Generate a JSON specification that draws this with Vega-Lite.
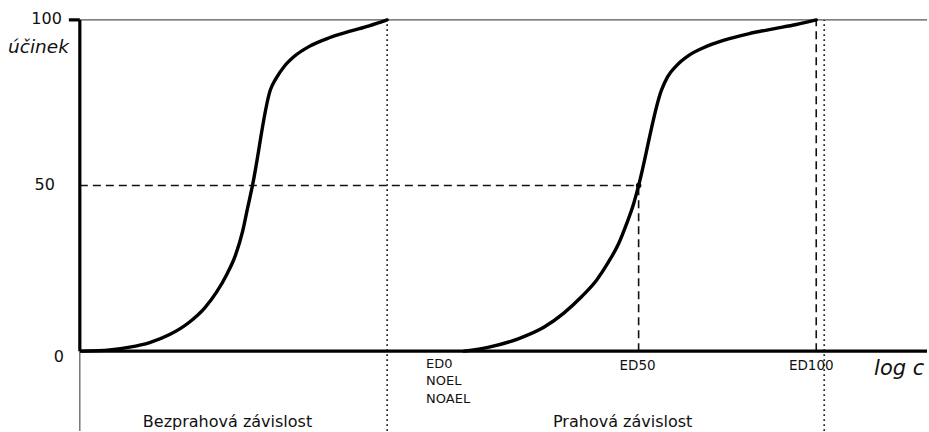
{
  "$schema": "https://vega.github.io/schema/vega-lite/v6.json",
  "width": 929,
  "height": 432,
  "autosize": {"type": "fit", "contains": "padding"},
  "padding": 0,
  "background": "white",
  "config": {"view": {"stroke": null}, "font": "DejaVu Sans"},
  "datasets": {
    "curves": [
      {"curve": "bez", "x": 0.2, "y": 0},
      {"curve": "bez", "x": 3.0, "y": 0.4},
      {"curve": "bez", "x": 5.0, "y": 1.2},
      {"curve": "bez", "x": 7.0, "y": 2.6},
      {"curve": "bez", "x": 9.0, "y": 5.0},
      {"curve": "bez", "x": 11.0, "y": 8.8},
      {"curve": "bez", "x": 12.5, "y": 13.0},
      {"curve": "bez", "x": 13.7, "y": 17.8},
      {"curve": "bez", "x": 14.7, "y": 23.0},
      {"curve": "bez", "x": 15.6, "y": 29.0},
      {"curve": "bez", "x": 16.3, "y": 36.0},
      {"curve": "bez", "x": 16.8, "y": 43.0},
      {"curve": "bez", "x": 17.3, "y": 50},
      {"curve": "bez", "x": 19.1, "y": 78.9},
      {"curve": "bez", "x": 19.7, "y": 82.5},
      {"curve": "bez", "x": 20.5, "y": 86.0},
      {"curve": "bez", "x": 21.5, "y": 89.0},
      {"curve": "bez", "x": 23.0, "y": 92.0},
      {"curve": "bez", "x": 25.0, "y": 94.6},
      {"curve": "bez", "x": 27.0, "y": 96.5},
      {"curve": "bez", "x": 29.0, "y": 98.2},
      {"curve": "bez", "x": 30.8, "y": 100},
      {"curve": "prah", "x": 38.5, "y": 0},
      {"curve": "prah", "x": 41.0, "y": 1.2},
      {"curve": "prah", "x": 44.0, "y": 3.8},
      {"curve": "prah", "x": 46.5, "y": 7.2},
      {"curve": "prah", "x": 48.5, "y": 11.5},
      {"curve": "prah", "x": 50.3, "y": 16.5},
      {"curve": "prah", "x": 51.8, "y": 21.5},
      {"curve": "prah", "x": 53.0, "y": 27.0},
      {"curve": "prah", "x": 54.0, "y": 32.5},
      {"curve": "prah", "x": 54.8, "y": 38.5},
      {"curve": "prah", "x": 55.5, "y": 44.5},
      {"curve": "prah", "x": 56.0, "y": 50},
      {"curve": "prah", "x": 58.3, "y": 78.9},
      {"curve": "prah", "x": 58.9, "y": 82.8},
      {"curve": "prah", "x": 59.8, "y": 86.2},
      {"curve": "prah", "x": 61.0, "y": 89.2},
      {"curve": "prah", "x": 62.5, "y": 91.6},
      {"curve": "prah", "x": 64.5, "y": 93.8},
      {"curve": "prah", "x": 67.0, "y": 95.8},
      {"curve": "prah", "x": 69.5, "y": 97.3},
      {"curve": "prah", "x": 71.8, "y": 98.6},
      {"curve": "prah", "x": 73.8, "y": 100}
    ],
    "axisLines": [
      {"x": 0, "x2": 0, "y": 0, "y2": 100},
      {"x": 0, "x2": 84.9, "y": 0, "y2": 0},
      {"x": -1.1, "x2": 0, "y": 100, "y2": 100}
    ],
    "thinLines": [
      {"x": 0, "x2": 84.9, "y": 100, "y2": 100},
      {"x": 0, "x2": 0, "y": -24.1, "y2": 0}
    ],
    "dashedLines": [
      {"x": 0, "x2": 56.0, "y": 50, "y2": 50},
      {"x": 56.0, "x2": 56.0, "y": 0, "y2": 50},
      {"x": 73.8, "x2": 73.8, "y": 0, "y2": 100}
    ],
    "dottedLines": [
      {"x": 30.8, "x2": 30.8, "y": -24.1, "y2": 100},
      {"x": 74.6, "x2": 74.6, "y": -24.1, "y2": 100}
    ],
    "ticks": [
      {"label": "100", "x": -1.8, "y": 100.2},
      {"label": "50", "x": -2.5, "y": 50.2},
      {"label": "0", "x": -1.6, "y": -1.8}
    ],
    "markers": [
      {"label": "ED0", "x": 34.7, "y": -3.9},
      {"label": "NOEL", "x": 34.7, "y": -9.1},
      {"label": "NOAEL", "x": 34.7, "y": -14.5}
    ],
    "centered": [
      {"label": "ED50", "x": 55.9, "y": -4.6},
      {"label": "ED100", "x": 73.3, "y": -4.6}
    ],
    "groups": [
      {"label": "Bezprahová závislost", "x": 14.8, "y": -21.4},
      {"label": "Prahová závislost", "x": 54.4, "y": -21.4}
    ],
    "titles": [
      {"label": "účinek", "x": -7.2, "y": 91.9, "size": 18.5},
      {"label": "log c", "x": 79.6, "y": -5.4, "size": 21}
    ]
  },
  "layer": [
    {
      "data": {"name": "thinLines"},
      "mark": {"type": "rule", "stroke": "#555555", "strokeWidth": 1.2},
      "encoding": {
        "x": {"field": "x", "type": "quantitative", "scale": {"domain": [-8, 84.9], "nice": false, "zero": false}, "axis": null},
        "x2": {"field": "x2"},
        "y": {"field": "y", "type": "quantitative", "scale": {"domain": [-24.1, 106.0], "nice": false, "zero": false}, "axis": null},
        "y2": {"field": "y2"}
      }
    },
    {
      "data": {"name": "dottedLines"},
      "mark": {"type": "rule", "stroke": "#222222", "strokeWidth": 1.7, "strokeDash": [1.7, 3.3]},
      "encoding": {
        "x": {"field": "x", "type": "quantitative"},
        "x2": {"field": "x2"},
        "y": {"field": "y", "type": "quantitative"},
        "y2": {"field": "y2"}
      }
    },
    {
      "data": {"name": "dashedLines"},
      "mark": {"type": "rule", "stroke": "#111111", "strokeWidth": 1.6, "strokeDash": [8, 5]},
      "encoding": {
        "x": {"field": "x", "type": "quantitative"},
        "x2": {"field": "x2"},
        "y": {"field": "y", "type": "quantitative"},
        "y2": {"field": "y2"}
      }
    },
    {
      "data": {"name": "axisLines"},
      "mark": {"type": "rule", "stroke": "black", "strokeWidth": 3.2},
      "encoding": {
        "x": {"field": "x", "type": "quantitative"},
        "x2": {"field": "x2"},
        "y": {"field": "y", "type": "quantitative"},
        "y2": {"field": "y2"}
      }
    },
    {
      "data": {"name": "curves"},
      "mark": {"type": "line", "stroke": "black", "strokeWidth": 3.4, "interpolate": "monotone", "strokeCap": "round"},
      "encoding": {
        "x": {"field": "x", "type": "quantitative"},
        "y": {"field": "y", "type": "quantitative"},
        "detail": {"field": "curve"}
      }
    },
    {
      "data": {"values": [{"x": 56.0, "y": 50}]},
      "mark": {"type": "point", "filled": true, "color": "black", "size": 30, "opacity": 1},
      "encoding": {
        "x": {"field": "x", "type": "quantitative"},
        "y": {"field": "y", "type": "quantitative"}
      }
    },
    {
      "data": {"name": "ticks"},
      "mark": {"type": "text", "align": "right", "baseline": "middle", "fontSize": 16, "color": "#111111"},
      "encoding": {
        "x": {"field": "x", "type": "quantitative"},
        "y": {"field": "y", "type": "quantitative"},
        "text": {"field": "label"}
      }
    },
    {
      "data": {"name": "markers"},
      "mark": {"type": "text", "align": "left", "baseline": "middle", "fontSize": 13, "color": "#111111"},
      "encoding": {
        "x": {"field": "x", "type": "quantitative"},
        "y": {"field": "y", "type": "quantitative"},
        "text": {"field": "label"}
      }
    },
    {
      "data": {"name": "centered"},
      "mark": {"type": "text", "align": "center", "baseline": "middle", "fontSize": 13.5, "color": "#111111"},
      "encoding": {
        "x": {"field": "x", "type": "quantitative"},
        "y": {"field": "y", "type": "quantitative"},
        "text": {"field": "label"}
      }
    },
    {
      "data": {"name": "groups"},
      "mark": {"type": "text", "align": "center", "baseline": "middle", "fontSize": 16, "color": "#111111"},
      "encoding": {
        "x": {"field": "x", "type": "quantitative"},
        "y": {"field": "y", "type": "quantitative"},
        "text": {"field": "label"}
      }
    },
    {
      "data": {"name": "titles"},
      "mark": {"type": "text", "align": "left", "baseline": "middle", "fontStyle": "italic", "color": "#111111"},
      "encoding": {
        "x": {"field": "x", "type": "quantitative"},
        "y": {"field": "y", "type": "quantitative"},
        "text": {"field": "label"},
        "size": {"field": "size", "type": "quantitative", "scale": null, "legend": null}
      }
    }
  ]
}
